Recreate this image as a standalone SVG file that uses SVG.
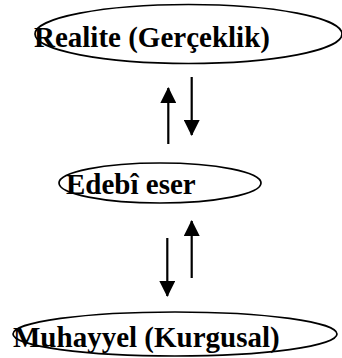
<svg xmlns="http://www.w3.org/2000/svg" width="342" height="358" viewBox="0 0 342 358">
  <style>
    .node ellipse { fill: none; stroke: #000; stroke-width: 1.7; }
    .node text { font-family: "Liberation Serif", "Times New Roman", serif; font-weight: bold; font-size: 29px; fill: #000; }
    .link { stroke: #000; stroke-width: 2.2; fill: none; marker-end: url(#head); }
  </style>
  <defs>
    <marker id="head" viewBox="0 0 16 16" refX="15" refY="8" markerWidth="16" markerHeight="16" markerUnits="userSpaceOnUse" orient="auto">
      <path d="M0,0 L16,8 L0,16 Z" fill="#000"/>
    </marker>
  </defs>
  <rect width="342" height="358" fill="#fff"/>

  <g id="connectors">
    <line class="link" x1="168.3" y1="144" x2="168.3" y2="88"/>
    <line class="link" x1="191.7" y1="77" x2="191.7" y2="135"/>
    <line class="link" x1="191.7" y1="278" x2="191.7" y2="221"/>
    <line class="link" x1="167.3" y1="238" x2="167.3" y2="296"/>
  </g>

  <g id="realite" class="node">
    <ellipse cx="188.5" cy="34" rx="153.5" ry="29.5"/>
    <text x="34" y="47">Realite (Gerçeklik)</text>
  </g>

  <g id="edebi-eser" class="node">
    <ellipse cx="160" cy="183" rx="101" ry="20"/>
    <text x="66" y="194">Edebî eser</text>
  </g>

  <g id="muhayyel" class="node">
    <ellipse cx="175" cy="334" rx="162" ry="22"/>
    <text x="13" y="347">Muhayyel (Kurgusal)</text>
  </g>
</svg>
